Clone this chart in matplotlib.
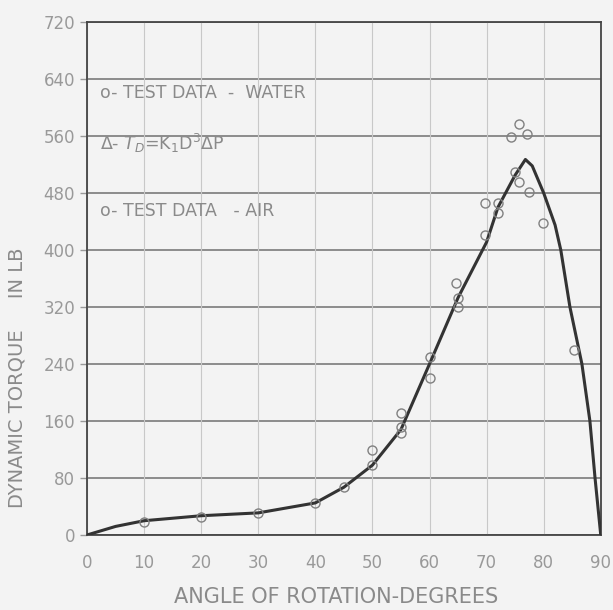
import matplotlib.pyplot as plt

# curve T_D = K1 D^3 dP
curve_angle = [0, 5, 10, 20, 30, 40, 45, 50, 55, 60, 65, 70, 72, 75, 76.8, 78, 80, 82, 83, 84.6, 86.7, 88.1, 89, 90]
curve_torque = [0, 12, 20, 27, 31, 45, 67, 98, 148, 240, 333, 411, 460, 505, 527, 518, 480, 435, 400, 320, 240, 160, 80, 0]

# test data circles
test_angle = [10, 20, 30, 40, 45, 50, 50, 55, 55, 55, 60, 60, 64.7, 65, 65,
              69.8, 69.8, 72, 72, 74.2, 75, 75.6, 75.6, 77.1, 77.5, 79.8, 85.3]
test_torque = [18, 25, 31, 45, 67, 119, 98, 171, 152, 143, 250, 221, 354, 333, 320,
               466, 421, 466, 452, 559, 509, 577, 495, 563, 481, 438, 260]

xticks = [0, 10, 20, 30, 40, 50, 60, 70, 80, 90]
yticks = [0, 80, 160, 240, 320, 400, 480, 560, 640, 720]

bg = "#f3f3f3"
fig = plt.figure(figsize=(6.13, 6.10), dpi=100, facecolor=bg)
ax = fig.add_axes([0.142, 0.123, 0.838, 0.841], facecolor=bg)

for y in yticks:
    ax.axhline(y, color="#707070", linewidth=1.1, zorder=1)
for x in xticks:
    ax.axvline(x, color="#c8c8c8", linewidth=0.8, zorder=1)

ax.plot(curve_angle, curve_torque, color="#333333", linewidth=2.2, zorder=3)
ax.plot(test_angle, test_torque, linestyle="none", marker="o", markersize=6.5,
        markerfacecolor="none", markeredgecolor="#808080", markeredgewidth=1.0, zorder=4)

ax.set_xlim(0, 90)
ax.set_ylim(0, 720)
ax.set_xticks(xticks)
ax.set_yticks(yticks)
ax.tick_params(colors="#999999", labelsize=12, length=5, width=1)
ax.tick_params(axis="x", length=0, pad=14)
for s in ax.spines.values():
    s.set_color("#444444")
    s.set_linewidth(1.3)

tcol = "#8a8a8a"
ax.text(2.3, 620, "o- TEST DATA  -  WATER", color=tcol, fontsize=12.5, va="center")
ax.text(2.3, 550, r"$\Delta$- $T_D$=K$_1$D$^3\Delta$P", color=tcol, fontsize=12.5, va="center")
ax.text(2.3, 455, "o- TEST DATA   - AIR", color=tcol, fontsize=12.5, va="center")

fig.text(0.549, 0.012, "ANGLE OF ROTATION-DEGREES", color=tcol, fontsize=15, ha="center")
fig.text(0.028, 0.38, "DYNAMIC TORQUE     IN LB", color=tcol, fontsize=14,
         rotation=90, va="center", ha="center")

plt.savefig("out.png", facecolor=bg)
plt.close()
